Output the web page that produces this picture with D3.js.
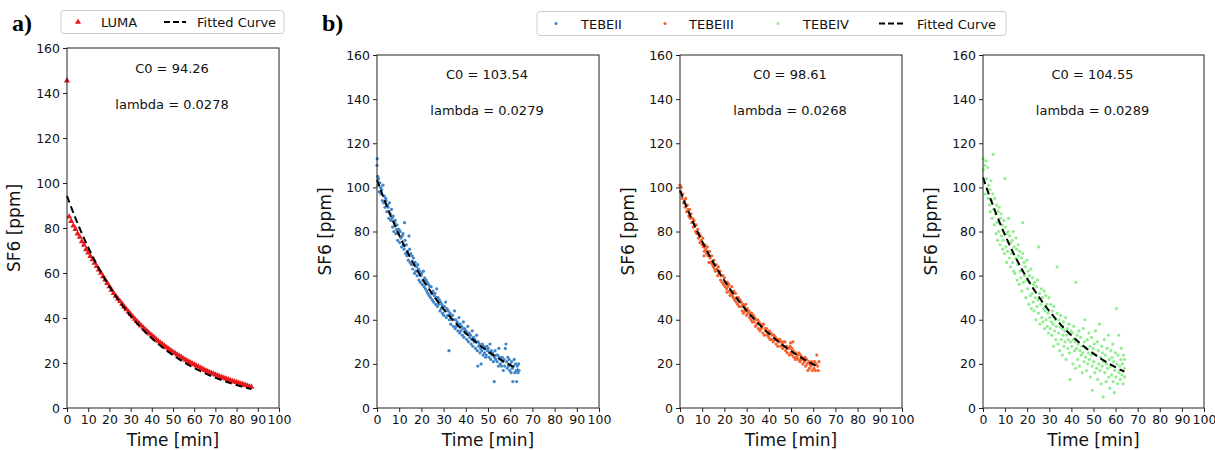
<!DOCTYPE html>
<html><head><meta charset="utf-8">
<script src="https://cdn.jsdelivr.net/npm/d3@7"></script>
<style>body{margin:0;background:#fff}svg{display:block}</style>
</head><body>
<svg id="c" width="1215" height="450"></svg>
<script>
const xTicks = [0,10,20,30,40,50,60,70,80,90,100];
const yTicks = [0,20,40,60,80,100,120,140,160];

const lumaT = [0,1,2,3,4,5,6,7,8,9,10,11,12,13,14,15,16,17,18,19,20,21,22,23,24,25,26,27,28,29,30,31,32,33,34,35,36,37,38,39,40,41,42,43,44,45,46,47,48,49,50,51,52,53,54,55,56,57,58,59,60,61,62,63,64,65,66,67,68,69,70,71,72,73,74,75,76,77,78,79,80,81,82,83,84,85,86,87];
const lumaV = [145.5,85,83,81,79.5,77.5,76,74,72.5,70.5,69,67.5,66,64.5,63,61.5,60,58.5,57,55.5,54,52.5,51,49.8,48.6,47.4,46.2,45,43.9,42.8,41.7,40.6,39.6,38.6,37.6,36.6,35.7,34.8,33.9,33,32.2,31.4,30.6,29.8,29,28.3,27.6,26.9,26.2,25.5,24.9,24.3,23.7,23.1,22.5,21.9,21.3,20.8,20.3,19.8,19.3,18.8,18.3,17.8,17.3,16.8,16.4,16,15.6,15.2,14.8,14.4,14,13.7,13.3,13,12.7,12.3,12,11.7,11.4,11.1,10.8,10.5,10.2,9.9,9.6,9.3];

const tebe2 = [[0.0,110],[0.1,113],[0.3,105],[0.5,101],[0.7,104],[1.0,98],[1.3,102],[1.6,100],[1.8,97],[2.1,99],[2.4,94],[2.7,101],[3.0,93],[3.3,96],[3.6,91],[3.9,95],[4.1,94],[4.4,89],[4.7,92],[5.0,91],[5.3,86],[5.6,93],[5.9,88],[6.2,85],[6.5,90],[6.8,86],[7.0,82],[7.3,87],[7.6,80],[7.9,84],[8.2,85],[8.5,79],[8.8,81],[9.0,83],[9.3,76],[9.6,79],[9.9,81],[10.2,75],[10.5,80],[10.8,77],[11.1,73],[11.4,78],[11.7,79],[11.9,74],[12.2,72],[12.4,84],[12.6,76],[12.9,70],[13.2,74],[13.5,69],[13.8,71],[14.1,67],[14.4,78],[14.7,72],[14.9,66],[15.2,70],[15.5,65],[15.8,69],[16.1,63],[16.4,68],[16.7,65],[16.9,61],[17.2,66],[17.5,62],[17.8,64],[18.1,60],[18.4,65],[18.7,63],[18.9,58],[19.2,62],[19.5,57],[19.8,60],[20.1,61],[20.4,56],[20.7,58],[20.9,62],[21.2,55],[21.5,59],[21.8,54],[22.1,58],[22.4,53],[22.7,57],[22.9,52],[23.2,56],[23.5,51],[23.8,55],[24.1,50],[24.4,55],[24.7,52],[24.9,49],[25.2,53],[25.5,48],[25.8,51],[26.1,52],[26.4,47],[26.7,50],[26.9,54],[27.2,46],[27.5,50],[27.8,47],[28.1,49],[28.4,44],[28.7,48],[28.9,45],[29.2,47],[29.5,43],[29.8,46],[30.1,42],[30.4,46],[30.7,44],[30.9,48],[31.2,41],[31.5,45],[31.8,42],[32.1,44],[32.4,26],[32.6,40],[32.9,43],[33.2,38],[33.5,42],[33.8,40],[34.1,42],[34.4,37],[34.7,40],[34.9,44],[35.2,36],[35.5,40],[35.8,37],[36.1,39],[36.4,35],[36.7,38],[36.9,41],[37.2,34],[37.5,38],[37.8,35],[38.1,37],[38.4,33],[38.7,36],[38.9,39],[39.2,32],[39.5,36],[39.8,34],[40.1,35],[40.4,31],[40.7,34],[40.9,37],[41.2,30],[41.5,34],[41.8,32],[42.1,33],[42.4,29],[42.7,31],[42.9,35],[43.2,28],[43.5,32],[43.8,30],[44.1,31],[44.4,27],[44.7,30],[44.9,33],[45.2,26],[45.4,19],[45.6,30],[45.8,28],[46.1,29],[46.4,25],[46.7,27],[46.9,20],[47.2,26],[47.5,29],[47.8,24],[48.1,28],[48.4,25],[48.7,27],[48.9,23],[49.2,24],[49.5,28],[49.8,26],[50.1,27],[50.4,23],[50.7,25],[50.9,29],[51.2,22],[51.5,26],[51.8,24],[52.1,25],[52.4,21],[52.8,12],[52.9,23],[53.2,26],[53.5,22],[53.8,24],[54.1,21],[54.4,24],[54.7,19],[54.9,27],[55.2,23],[55.5,20],[55.8,22],[56.1,19],[56.4,23],[56.7,21],[56.9,17],[57.2,22],[57.5,19],[57.8,27],[58.1,29],[58.4,21],[58.7,18],[58.9,23],[59.2,19],[59.5,22],[59.8,17],[60.1,20],[60.4,16],[60.7,21],[60.9,18],[61.2,12],[61.5,19],[61.8,22],[62.1,16],[62.4,20],[62.7,17],[62.9,12],[63.2,19],[63.5,16],[63.8,20],[64.0,17]];

const tebe3 = [[0.0,101],[0.3,98],[0.6,100],[1.0,95],[1.3,97],[1.6,93],[2.0,94],[2.3,91],[2.6,95],[3.0,89],[3.3,92],[3.6,90],[4.0,87],[4.3,90],[4.6,86],[5.0,88],[5.3,84],[5.6,86],[6.0,82],[6.3,85],[6.6,83],[7.0,80],[7.3,83],[7.6,79],[8.0,81],[8.3,77],[8.6,79],[9.0,75],[9.3,78],[9.6,76],[10.0,74],[10.3,77],[10.6,73],[10.8,69],[11.0,71],[11.3,74],[11.6,72],[12.0,70],[12.3,73],[12.6,69],[13.0,66],[13.3,71],[13.6,68],[14.0,66],[14.3,69],[14.6,65],[15.0,64],[15.3,67],[15.6,63],[16.0,62],[16.3,65],[16.6,63],[17.0,60],[17.3,64],[17.6,61],[18.0,62],[18.3,58],[18.6,60],[19.0,57],[19.3,60],[19.6,56],[20.0,59],[20.3,55],[21.2,52.5],[20.6,57],[21.0,54],[21.4,57],[21.6,55],[22.0,56],[22.3,53],[22.6,51],[23.0,52],[23.3,55],[23.6,51],[24.0,50],[24.3,53],[24.6,49],[25.0,52],[25.3,48],[25.6,50],[26.0,47],[26.3,50],[26.6,46],[27.0,49],[27.3,46],[27.6,48],[28.0,44],[28.3,47],[28.6,43],[29.0,46],[29.3,44],[29.6,47],[30.0,42],[30.3,45],[30.6,43],[31.0,44],[31.3,41],[31.6,43],[32.0,40],[32.3,43],[32.6,39],[33.0,42],[33.3,39],[33.6,41],[34.0,37],[34.3,40],[34.6,38],[35.0,40],[35.3,36],[35.6,39],[36.0,35],[36.3,38],[36.6,36],[37.0,37],[37.3,34],[37.6,38],[38.0,33],[38.3,36],[38.6,35],[39.0,36],[39.3,33],[39.6,34],[40.0,32],[40.3,35],[40.6,31],[41.0,34],[41.3,31],[41.6,33],[42.0,30],[42.3,33],[42.6,31],[43.0,32],[43.3,29],[43.6,31],[44.0,28],[44.3,31],[44.6,30],[45.0,31],[45.3,28],[45.6,30],[46.0,29],[46.3,27],[46.6,30],[47.0,28],[47.3,30],[47.6,26],[48.0,28],[48.3,25],[48.6,27],[49.0,27],[49.3,24],[49.6,28],[49.8,29.5],[50.0,25],[50.3,27],[50.6,24],[50.9,30],[51.0,26],[51.3,23],[51.6,25],[52.0,22],[52.3,25],[52.6,23],[53.0,24],[53.3,22],[53.6,25],[54.0,21],[54.3,24],[54.6,22],[55.0,23],[55.3,20],[55.6,22],[56.0,21],[56.3,23],[56.6,19],[57.0,22],[57.3,20],[57.6,17],[58.0,21],[58.3,18],[58.6,20],[59.0,19],[59.3,21],[59.6,17],[60.0,20],[60.3,18],[60.6,21],[61.0,17],[61.3,20],[61.6,24],[62.0,19],[62.3,17],[62.6,21]];

const tebe4 = [[0.0,113],[0.2,108],[0.5,102],[0.8,110],[1.1,97],[1.3,112],[1.6,104],[1.9,99],[2.1,109],[2.3,95],[2.6,101],[2.9,92],[3.1,99],[3.3,89],[3.6,103],[3.8,94],[4.1,86],[4.4,97],[4.6,115],[4.8,90],[5.1,83],[5.3,95],[5.6,88],[5.9,79],[6.1,92],[6.4,84],[6.6,76],[6.9,89],[7.1,80],[7.4,91],[7.7,74],[7.9,86],[8.2,88],[8.4,78],[8.7,83],[8.9,72],[9.1,76],[9.4,85],[9.7,70],[9.9,104],[10.2,82],[10.4,73],[10.7,66],[10.9,79],[11.1,71],[11.4,80],[11.6,86],[11.9,68],[12.1,78],[12.4,64],[12.6,75],[12.9,70],[13.2,76],[13.4,66],[13.7,80],[13.9,62],[14.1,73],[14.4,61],[14.7,68],[14.9,77],[15.2,72],[15.4,58],[15.7,65],[15.9,74],[16.1,69],[16.4,56],[16.6,71],[16.9,62],[17.1,59],[17.4,68],[17.6,53],[17.9,70],[18.0,84],[18.3,57],[18.6,66],[18.8,60],[19.1,64],[19.4,50],[19.6,58],[19.9,67],[20.2,54],[20.4,62],[20.7,47],[20.9,57],[21.1,60],[21.4,51],[21.7,63],[21.9,45],[22.2,52],[22.4,59],[22.7,48],[22.9,56],[23.1,44],[23.4,57],[23.7,50],[23.9,40],[24.2,55],[24.4,46],[24.7,58],[24.9,49],[25.1,43],[25.2,73],[25.6,52],[25.8,38],[26.1,47],[26.4,54],[26.6,41],[26.9,50],[27.2,39],[27.4,45],[27.7,53],[27.9,36],[28.1,44],[28.4,51],[28.6,40],[28.9,47],[29.1,37],[29.4,43],[29.6,34],[29.9,50],[30.2,41],[30.4,36],[30.7,47],[30.9,39],[31.1,33],[31.4,44],[31.7,38],[31.9,28],[32.1,46],[32.4,35],[32.7,40],[32.9,31],[33.1,37],[33.5,64],[33.6,43],[33.9,29],[34.2,34],[34.4,40],[34.7,26],[34.9,37],[35.1,42],[35.4,31],[35.7,36],[35.9,24],[36.2,33],[36.4,39],[36.7,28],[36.9,35],[37.1,30],[37.4,41],[37.6,22],[37.9,33],[38.1,36],[38.4,27],[38.6,31],[38.9,38],[39.1,25],[39.4,13],[39.6,30],[39.9,35],[40.2,28],[40.4,34],[40.7,20],[40.9,31],[41.1,37],[41.4,26],[41.7,30],[41.9,18],[42.0,57],[42.3,27],[42.6,33],[42.9,22],[43.1,29],[43.4,35],[43.7,19],[43.9,26],[44.2,32],[44.4,24],[44.7,28],[44.9,16],[45.1,25],[45.4,36],[45.7,21],[45.9,30],[46.1,40],[46.4,23],[46.6,27],[46.9,17],[47.2,31],[47.4,20],[47.7,25],[47.9,34],[48.1,22],[48.4,28],[48.6,14],[48.9,24],[49.1,32],[49.4,19],[49.5,8],[49.8,27],[50.1,21],[50.4,29],[50.6,16],[50.9,35],[51.1,24],[51.4,18],[51.7,30],[51.9,13],[52.2,26],[52.4,20],[52.7,38],[52.9,17],[53.1,23],[53.4,11],[53.7,28],[53.9,19],[54.1,25],[54.4,5],[54.6,21],[54.9,31],[55.1,16],[55.4,24],[55.7,12],[55.9,20],[56.2,27],[56.4,18],[56.7,33],[56.9,14],[57.1,22],[57.4,9],[57.7,19],[57.9,26],[58.2,15],[58.4,23],[58.7,29],[58.9,12],[59.1,21],[59.4,7],[59.6,17],[59.9,25],[60.1,14],[60.4,45],[60.6,20],[60.9,11],[61.1,24],[61.4,33],[61.6,16],[61.9,19],[62.1,13],[62.4,22],[62.6,27],[62.9,15],[63.1,20],[63.4,11],[63.6,24],[63.9,18],[64.0,22],[64.1,14]];

const fits = {
  LUMA:    {C0: 94.26,  lambda: 0.0278, tMax: 87},
  TEBEII:  {C0: 103.54, lambda: 0.0279, tMax: 63.5},
  TEBEIII: {C0: 98.61,  lambda: 0.0268, tMax: 62.5},
  TEBEIV:  {C0: 104.55, lambda: 0.0289, tMax: 64}
};

const colors = {LUMA:"#e8191b", TEBEII:"#3f86c8", TEBEIII:"#f4612c", TEBEIV:"#90ee90"};

const svg = d3.select("#c");
const frameColor = "#222";
const SANS = "DejaVu Sans, sans-serif";

const panels = [
  {name:"LUMA", left:67, right:279, top:48, bottom:408, data: lumaT.map((t,i)=>[t,lumaV[i]]), marker:"tri", ylx:20},
  {name:"TEBEII", left:377, right:599, top:55, bottom:408, data: tebe2, marker:"dot", ylx:331},
  {name:"TEBEIII", left:680, right:902, top:55, bottom:408, data: tebe3, marker:"dot", ylx:634},
  {name:"TEBEIV", left:983, right:1204, top:55, bottom:408, data: tebe4, marker:"dot", ylx:937}
];

panels.forEach(p => {
  const x = d3.scaleLinear().domain([0,100]).range([p.left,p.right]);
  const y = d3.scaleLinear().domain([0,160]).range([p.bottom,p.top]);
  const g = svg.append("g");
  const f = fits[p.name];

  const clipId = "clip-"+p.name;
  svg.append("clipPath").attr("id",clipId).append("rect")
    .attr("x",p.left-3).attr("y",p.top).attr("width",p.right-p.left+3).attr("height",p.bottom-p.top);
  const pg = g.append("g").attr("clip-path","url(#"+clipId+")");
  if (p.marker === "tri") {
    const sym = d3.symbol().type(d3.symbolTriangle).size(16);
    pg.selectAll("path.pt").data(p.data).join("path")
      .attr("transform", d => `translate(${x(d[0])},${y(d[1])})`)
      .attr("d", sym).attr("fill", colors[p.name]);
  } else {
    pg.selectAll("circle").data(p.data).join("circle")
      .attr("cx", d => x(d[0])).attr("cy", d => y(d[1])).attr("r", 1.6)
      .attr("fill", colors[p.name]);
  }
  const ts = d3.range(0, f.tMax + 0.001, 0.5);
  const line = d3.line().x(t => x(t)).y(t => y(f.C0*Math.exp(-f.lambda*t)));
  pg.append("path").datum(ts).attr("d", line).attr("fill","none")
    .attr("stroke","#000").attr("stroke-width",2).attr("stroke-dasharray","7,4");

  g.append("rect").attr("x",p.left).attr("y",p.top).attr("width",p.right-p.left).attr("height",p.bottom-p.top)
    .attr("fill","none").attr("stroke",frameColor).attr("stroke-width",1);

  const xa = g.append("g").attr("transform",`translate(0,${p.bottom})`)
    .call(d3.axisBottom(x).tickValues(xTicks).tickSize(4).tickPadding(3).tickFormat(d3.format("d")));
  const ya = g.append("g").attr("transform",`translate(${p.left},0)`)
    .call(d3.axisLeft(y).tickValues(yTicks).tickSize(4).tickPadding(3).tickFormat(d3.format("d")));
  [xa,ya].forEach(a => {
    a.select(".domain").remove();
    a.selectAll("line").attr("stroke",frameColor);
    a.selectAll("text").style("font-size","12.5px").attr("fill","#111").style("font-family",SANS);
  });

  g.append("text").attr("x",(p.left+p.right)/2).attr("y",446).attr("text-anchor","middle")
    .style("font-size","17px").style("font-family",SANS).attr("fill","#111").text("Time [min]");
  g.append("text").attr("transform",`translate(${p.ylx},${(p.top+p.bottom)/2}) rotate(-90)`)
    .attr("text-anchor","middle").style("font-size","17px").style("font-family",SANS).attr("fill","#111").text("SF6 [ppm]");

  const cx = (p.left+p.right)/2 - 1;
  g.append("text").attr("x",cx).attr("y",y(149)).attr("text-anchor","middle").style("font-size","13px").style("font-family",SANS)
    .attr("fill","#111").text("C0 = " + f.C0.toFixed(2));
  g.append("text").attr("x",cx).attr("y",y(133)).attr("text-anchor","middle").style("font-size","13px").style("font-family",SANS)
    .attr("fill","#111").text("lambda = " + f.lambda.toFixed(4));
});

const SERIF = "Liberation Serif, Times New Roman, serif";
svg.append("text").attr("x",12).attr("y",31).style("font-family",SERIF).style("font-weight","bold")
  .style("font-size","24px").attr("fill","#000").text("a)");
svg.append("text").attr("x",322).attr("y",31).style("font-family",SERIF).style("font-weight","bold")
  .style("font-size","24px").attr("fill","#000").text("b)");

const la = svg.append("g");
la.append("rect").attr("x",61).attr("y",10.5).attr("width",223).attr("height",23).attr("rx",3)
  .attr("fill","#fff").attr("stroke","#ccc");
la.append("path").attr("transform","translate(78,22)").attr("d",d3.symbol().type(d3.symbolTriangle).size(16)).attr("fill",colors.LUMA);
la.append("text").attr("x",101).attr("y",27).style("font-size","13px").style("font-family",SANS).attr("fill","#111").text("LUMA");
la.append("line").attr("x1",164).attr("x2",186).attr("y1",22).attr("y2",22).attr("stroke","#000").attr("stroke-width",2).attr("stroke-dasharray","6,3");
la.append("text").attr("x",197).attr("y",27).style("font-size","13px").style("font-family",SANS).attr("fill","#111").text("Fitted Curve");

const lb = svg.append("g");
lb.append("rect").attr("x",537).attr("y",11.5).attr("width",469).attr("height",24).attr("rx",3)
  .attr("fill","#fff").attr("stroke","#ccc");
const lbItems = [["TEBEII",556,581],["TEBEIII",665,689],["TEBEIV",778,803]];
lbItems.forEach(([n,mx,tx]) => {
  lb.append("circle").attr("cx",mx).attr("cy",23.5).attr("r",1.6).attr("fill",colors[n]);
  lb.append("text").attr("x",tx).attr("y",28.5).style("font-size","13px").style("font-family",SANS).attr("fill","#111").text(n);
});
lb.append("line").attr("x1",879).attr("x2",906).attr("y1",23.5).attr("y2",23.5).attr("stroke","#000").attr("stroke-width",2).attr("stroke-dasharray","6,3");
lb.append("text").attr("x",917).attr("y",28.5).style("font-size","13px").style("font-family",SANS).attr("fill","#111").text("Fitted Curve");
</script>
</body></html>
